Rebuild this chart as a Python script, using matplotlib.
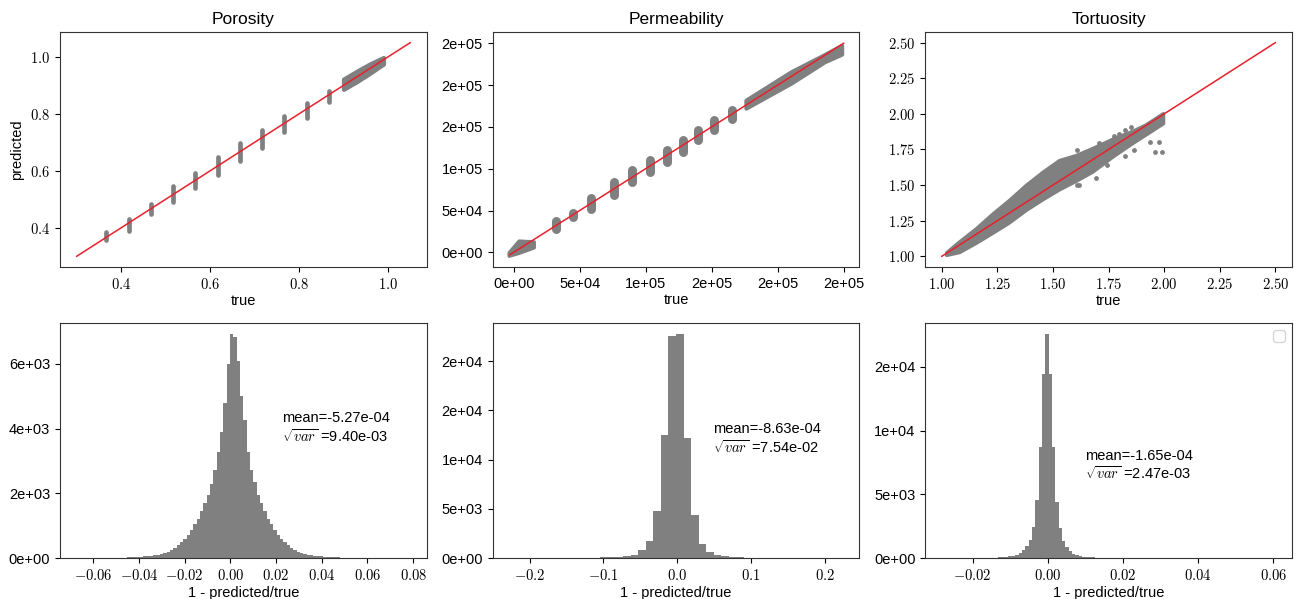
import numpy as np
import matplotlib
matplotlib.use('Agg')
import matplotlib.pyplot as plt
from matplotlib.ticker import FormatStrFormatter, MultipleLocator

plt.rcParams['font.family'] = ['Liberation Sans', 'DejaVu Sans']
plt.rcParams['mathtext.fontset'] = 'cm'
plt.rcParams['axes.formatter.use_mathtext'] = True
plt.rcParams['font.size'] = 10.5
plt.rcParams['axes.titlesize'] = 12.5
plt.rcParams['axes.edgecolor'] = '#333333'

titles = ['Porosity', 'Permeability', 'Tortuosity']

# ---- porosity: discrete true values with spread of predictions
por_true = [0.367, 0.417, 0.467, 0.517, 0.567, 0.617, 0.667, 0.717, 0.767, 0.817, 0.867]
por_lo = [0.358, 0.388, 0.449, 0.492, 0.539, 0.585, 0.634, 0.681, 0.736, 0.784, 0.840]
por_hi = [0.385, 0.431, 0.484, 0.548, 0.592, 0.649, 0.699, 0.743, 0.792, 0.839, 0.881]
por_band_x = [0.900, 0.930, 0.960, 0.990]
por_band_lo = [0.886, 0.913, 0.943, 0.975]
por_band_hi = [0.922, 0.950, 0.976, 0.998]
por_line = [0.3, 1.05]

# ---- permeability
perm_true = [31700, 45000, 58300, 76000, 90000, 103300, 116500, 128000, 139300, 151500, 165200]
perm_lo = [27500, 42500, 51500, 68500, 84500, 96500, 108500, 120500, 134000, 146000, 160000]
perm_hi = [37500, 47500, 64500, 84500, 98500, 110500, 122000, 134000, 146000, 158500, 170500]
perm_low_x = [-3800, 3800, 15200]
perm_low_lo = [-4000, -500, 6000]
perm_low_hi = [0, 14000, 13000]
perm_band_x = [176000, 210300, 235600, 248500]
perm_band_lo = [172500, 202500, 228000, 237000]
perm_band_hi = [182000, 216000, 236500, 247500]
perm_line = [-3000, 250000]

# ---- tortuosity
tort_x = [1.02, 1.078, 1.153, 1.228, 1.302, 1.377, 1.452, 1.527, 1.602, 1.677, 1.767, 1.856, 1.916, 1.995]
tort_lo = [1.010, 1.030, 1.095, 1.166, 1.238, 1.325, 1.400, 1.470, 1.530, 1.595, 1.700, 1.795, 1.855, 1.935]
tort_hi = [1.028, 1.104, 1.196, 1.300, 1.395, 1.500, 1.592, 1.675, 1.710, 1.760, 1.825, 1.880, 1.925, 2.005]
tort_out_x = [1.609, 1.534, 1.706, 1.744, 1.826, 1.864, 1.609, 1.796, 1.823, 1.692, 1.774,
              1.991, 1.961, 1.976, 1.938, 1.617, 1.531, 1.849]
tort_out_y = [1.744, 1.669, 1.796, 1.639, 1.704, 1.749, 1.503, 1.862, 1.885, 1.553, 1.845,
              1.732, 1.732, 1.803, 1.803, 1.503, 1.658, 1.908]
tort_line = [1.0, 2.5]

# ---- histograms of 1 - predicted/true
por_range = (-0.0673, 0.0787)
por_counts = [3, 0, 2, 4, 3, 5, 4, 6, 7, 6, 9, 10, 11, 13, 15, 17,
              20, 20, 31, 41, 51, 62, 72, 82, 100, 123, 154, 195, 245, 320, 400, 490, 595, 720, 860, 1040,
              1220, 1440, 1710, 1950, 2300, 2720, 3280, 3900, 4800, 6000,
              6920, 6820, 6100, 5000, 4260, 3280, 2720, 2340, 1950, 1710, 1440, 1220, 1040, 870, 720, 595,
              490, 400, 320, 245, 195, 154, 123, 100, 82, 72, 62, 51, 41, 31,
              26, 22, 19, 16, 14, 12, 10, 9, 8, 7, 6, 5, 5, 4, 4, 3, 3, 2, 2, 2, 1, 2, 1, 3]
perm_range = (-0.2277, 0.2246)
perm_counts = [2, 0, 1, 0, 2, 3, 2, 4, 6, 10, 18,
               30, 60, 100, 135, 200, 340, 800, 1690, 4730, 12500, 22540, 22750, 12170, 4390, 1450,
               610, 270, 170, 100, 70, 50, 30,
               20, 12, 8, 5, 4, 3, 2, 2, 1, 1, 2]
tort_range = (-0.0282, 0.0605)
tort_counts = [3, 2, 1, 2, 1, 1, 0, 1, 2, 3, 4, 6, 8, 12, 18, 26, 36,
               50, 80, 100, 130, 180, 260, 390, 600, 910, 1430, 2470, 4550, 8710, 14430, 17550, 14430,
               8710, 4420, 2340, 1350, 830, 570, 340, 230, 156, 104, 78, 52, 45,
               35, 28, 22, 18, 15, 12, 10, 9, 8, 7, 6, 5, 5, 4, 4, 3, 3, 3, 2, 2,
               2, 2, 2, 1, 1, 2, 1, 1, 1, 2, 1, 1, 1, 1, 2, 1, 1, 1, 0, 1,
               1, 1, 0, 1, 1, 0, 1, 0, 1, 0, 1, 0, 0, 1]
hist_mean = ['-5.27e-04', '-8.63e-04', '-1.65e-04']
hist_std = ['9.40e-03', '7.54e-02', '2.47e-03']
hist_xstep = [0.02, 0.1, 0.02]
hist_ystep = [2000, 5000, 5000]
text_pos = [(0.604, 0.554), (0.600, 0.505), (0.435, 0.394)]

serif = 'cmr10'

fig, axes = plt.subplots(2, 3, figsize=(13.04, 5.99), dpi=100)
plt.subplots_adjust(left=0.046, right=0.9908, bottom=0.0684, top=0.9466,
                    wspace=0.179, hspace=0.2386)

# top row: predicted vs true
ax = axes[0, 0]
ax.vlines(por_true, por_lo, por_hi, color='gray', lw=3.4, capstyle='round')
ax.fill_between(por_band_x, por_band_lo, por_band_hi, color='gray', lw=3, edgecolor='gray')
ax.plot(por_line, por_line, color='#e8202a', lw=1.1)
ax.set_ylabel('predicted')
ax.tick_params(labelfontfamily=serif)

ax = axes[0, 1]
ax.vlines(perm_true, perm_lo, perm_hi, color='gray', lw=6.5, capstyle='round')
ax.fill_between(perm_low_x, perm_low_lo, perm_low_hi, color='gray', lw=2.5, edgecolor='gray')
ax.fill_between(perm_band_x, perm_band_lo, perm_band_hi, color='gray', lw=3, edgecolor='gray')
ax.plot(perm_line, perm_line, color='#e8202a', lw=1.1)
ax.xaxis.set_major_formatter(FormatStrFormatter('%.0e'))
ax.yaxis.set_major_formatter(FormatStrFormatter('%.0e'))
ax.set_xlim(-16000, 262000)
ax.set_ylim(-17500, 263500)

ax = axes[0, 2]
ax.fill_between(tort_x, tort_lo, tort_hi, color='gray', lw=2.5, edgecolor='gray')
ax.scatter(tort_out_x, tort_out_y, s=6, color='gray')
ax.plot(tort_line, tort_line, color='#e8202a', lw=1.1)
ax.tick_params(labelfontfamily=serif)

for i, ax in enumerate(axes[0]):
    ax.set_title(titles[i])
    ax.set_xlabel('true', labelpad=2)

# bottom row: histograms
hists = [(por_counts, por_range), (perm_counts, perm_range), (tort_counts, tort_range)]
for i, (counts, rng) in enumerate(hists):
    ax = axes[1, i]
    edges = np.linspace(rng[0], rng[1], len(counts) + 1)
    centers = 0.5 * (edges[:-1] + edges[1:])
    ax.hist(centers, bins=edges, weights=counts, color='gray')
    ax.xaxis.set_major_locator(MultipleLocator(hist_xstep[i]))
    ax.yaxis.set_major_locator(MultipleLocator(hist_ystep[i]))
    ax.yaxis.set_major_formatter(FormatStrFormatter('%.0e'))
    ax.tick_params(axis='x', labelfontfamily=serif)
    ax.set_xlabel('1 - predicted/true', labelpad=2)
    ax.text(text_pos[i][0], text_pos[i][1],
            'mean=' + hist_mean[i] + '\n' + r'$\sqrt{var}$ =' + hist_std[i],
            transform=ax.transAxes, ha='left', va='center')

axes[1, 2].legend(handles=[], loc='upper right')

plt.savefig('out.png', dpi=100)
